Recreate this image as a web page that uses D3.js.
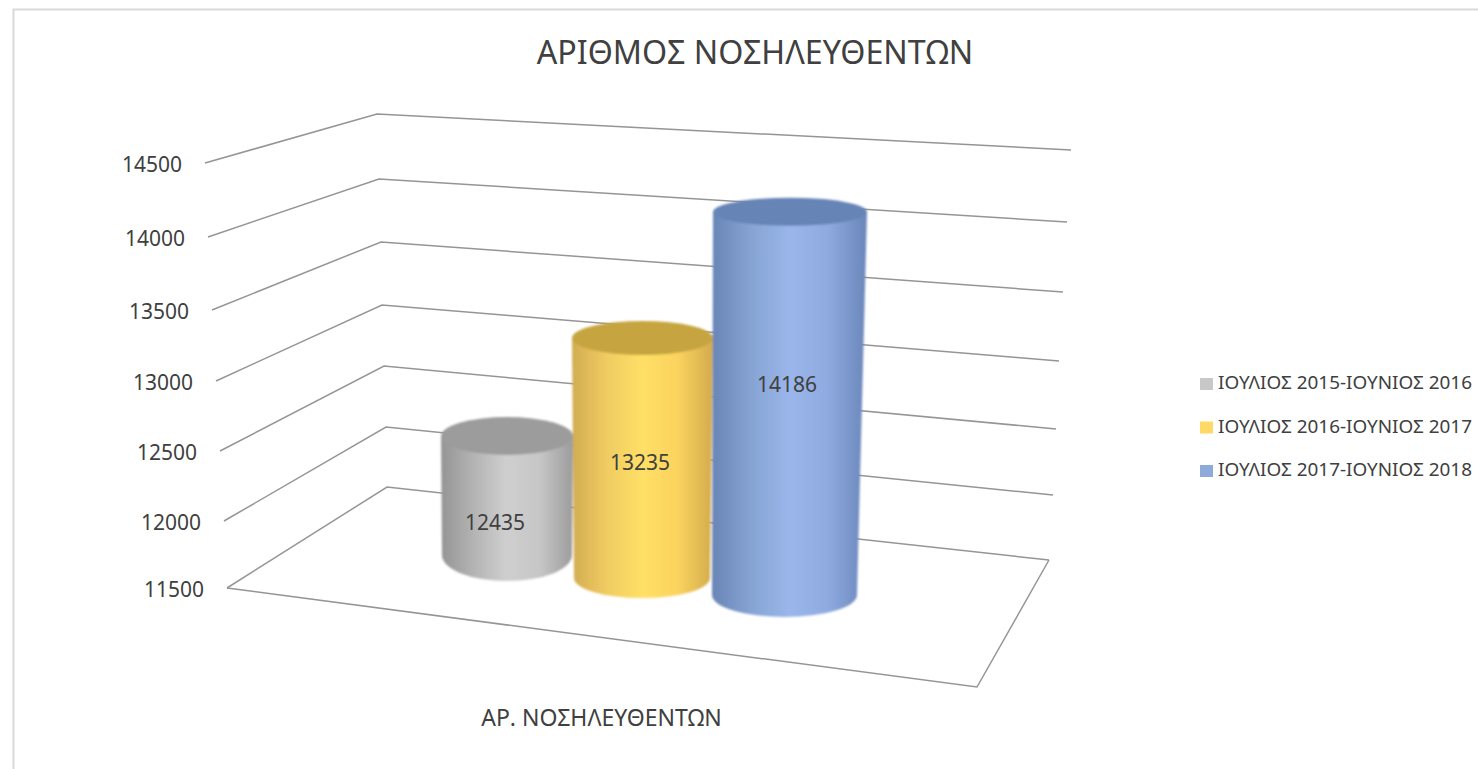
<!DOCTYPE html>
<html><head><meta charset="utf-8">
<script src="https://cdn.jsdelivr.net/npm/d3@7"></script>
<style>html,body{margin:0;padding:0;background:#fff;overflow:hidden}text{font-family:"Noto Sans",sans-serif;fill:#404040}</style>
</head><body><svg id="c" width="1478" height="769"></svg>
<script>
const chartTitle = "ΑΡΙΘΜΟΣ ΝΟΣΗΛΕΥΘΕΝΤΩΝ";
const categoryLabel = "ΑΡ. ΝΟΣΗΛΕΥΘΕΝΤΩΝ";
const seriesNames = ["ΙΟΥΛΙΟΣ 2015-ΙΟΥΝΙΟΣ 2016","ΙΟΥΛΙΟΣ 2016-ΙΟΥΝΙΟΣ 2017","ΙΟΥΛΙΟΣ 2017-ΙΟΥΝΙΟΣ 2018"];
const seriesValues = [12435,13235,14186];
const tickValues = [11500,12000,12500,13000,13500,14000,14500];
const swatchColors = ["#c8c8c8","#ffd966","#8eaadb"];

const svg = d3.select("#c");
const defs = svg.append("defs");
defs.append("filter").attr("id","soft").attr("x","-5%").attr("y","-5%").attr("width","110%").attr("height","110%")
  .append("feGaussianBlur").attr("stdDeviation",0.8);
defs.append("filter").attr("id","softLine").attr("filterUnits","userSpaceOnUse").attr("x",0).attr("y",0).attr("width",1478).attr("height",769)
  .append("feGaussianBlur").attr("stdDeviation",0.45);

// frame
svg.append("path").attr("d","M1478,9.5H13.5V769").attr("fill","none").attr("stroke","#d9d9d9").attr("stroke-width",2);

// wall edge scales (perspective: one piecewise scale per corner of the box)
const frontX = d3.scaleLinear().domain(tickValues).range([227,224,220,216,212,208,205]);
const frontY = d3.scaleLinear().domain(tickValues).range([588,521,451,381,310,237,163]);
const backX  = d3.scaleLinear().domain(tickValues).range([387,386,384,382,381,379,377]);
const backY  = d3.scaleLinear().domain(tickValues).range([487,427,366,305,242,179,114]);
const rightX = d3.scaleLinear().domain(tickValues).range([1049,1053,1056,1059,1063,1067,1071]);
const rightY = d3.scaleLinear().domain(tickValues).range([560,495,429,361,292,222,150]);

const grid = svg.append("g").attr("filter","url(#softLine)").attr("fill","none").attr("stroke","#959595").attr("stroke-width",1.5);
grid.selectAll("path.g").data(tickValues).join("path").attr("class","g")
  .attr("d",v=>d3.line()([[frontX(v),frontY(v)],[backX(v),backY(v)],[rightX(v),rightY(v)]]));
// floor front edges
const v0 = tickValues[0];
grid.append("path").attr("d",d3.line()([[frontX(v0),frontY(v0)],[977,687],[rightX(v0),rightY(v0)]]));

// axis labels
svg.append("g").selectAll("text").data(tickValues).join("text")
  .attr("x",v=>frontX(v)-23).attr("y",v=>frontY(v)+3)
  .attr("text-anchor","end").attr("dominant-baseline","middle").attr("font-size",21)
  .text(v=>v);

// cylinders: a vertical scale per series (depth changes px per unit)
const base = [
  {h:d3.scaleLinear().domain([11500,14500]).range([555,173]),xB:507,wB:65,ryB:26,xT:507,wT:66,ryT:19,top:"#9c9c9c",stops:["#949494","#b4b4b4","#cfcfcf","#c6c6c6","#9c9c9c"],lx:495,ly:524},
  {h:d3.scaleLinear().domain([11500,14500]).range([578,163]),xB:642,wB:68,ryB:20,xT:642.5,wT:70.5,ryT:17,top:"#c6a540",stops:["#d2ac50","#f0cc62","#ffe066","#fbd35f","#d2ab4d"],lx:640,ly:464},
  {h:d3.scaleLinear().domain([11500,14500]).range([595,167]),xB:784.5,wB:72.5,ryB:22,xT:790,wT:77,ryT:14,top:"#6684b6",stops:["#6885b6","#86a3d4","#9ab6ea","#8eaae0","#6a86b9"],lx:787,ly:386}
];
const bars = svg.append("g").attr("filter","url(#soft)");
seriesValues.forEach((val,i)=>{
  const b = base[i];
  const id = "grad"+i;
  const g = defs.append("linearGradient").attr("id",id).attr("x1",0).attr("x2",1).attr("y1",0).attr("y2",0);
  b.stops.forEach((c,k)=>g.append("stop").attr("offset",k/(b.stops.length-1)).attr("stop-color",c));
  const yB = b.h(11500), yT = b.h(val);
  bars.append("path").attr("fill",`url(#${id})`)
    .attr("d",`M${b.xT-b.wT},${yT}L${b.xB-b.wB},${yB}A${b.wB},${b.ryB} 0 0 0 ${b.xB+b.wB},${yB}L${b.xT+b.wT},${yT}Z`);
  bars.append("ellipse").attr("cx",b.xT).attr("cy",yT).attr("rx",b.wT).attr("ry",b.ryT).attr("fill",b.top);
});

// data labels
svg.append("g").selectAll("text").data(seriesValues).join("text")
  .attr("x",(d,i)=>base[i].lx).attr("y",(d,i)=>base[i].ly)
  .attr("text-anchor","middle").attr("dominant-baseline","middle").attr("font-size",21)
  .text(d=>d);

// title, category
svg.append("text").attr("x",755).attr("y",55).attr("text-anchor","middle").attr("dominant-baseline","middle")
  .attr("font-size",32.2).text(chartTitle);
svg.append("text").attr("x",601.5).attr("y",720).attr("text-anchor","middle").attr("dominant-baseline","middle")
  .attr("font-size",23).text(categoryLabel);

// legend
const legendY = d3.scalePoint().domain(seriesNames).range([384,471]);
const lg = svg.append("g").selectAll("g").data(seriesNames).join("g").attr("transform",d=>`translate(1200,${legendY(d)})`);
lg.append("rect").attr("x",0).attr("y",-6).attr("width",13).attr("height",12).attr("fill",(d,i)=>swatchColors[i]);
lg.append("text").attr("x",18).attr("y",0).attr("dominant-baseline","middle").attr("font-size",18.9).text(d=>d);
</script></body></html>
